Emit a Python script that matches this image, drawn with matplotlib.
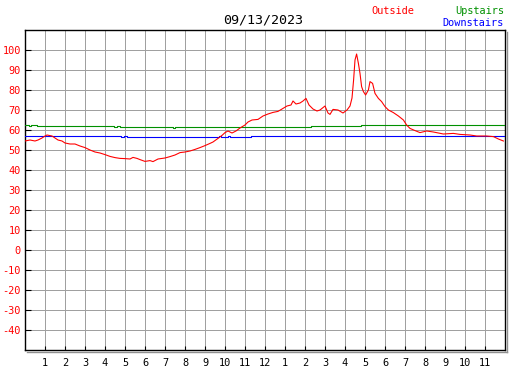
import matplotlib
matplotlib.use("Agg")
import matplotlib.pyplot as plt
from matplotlib.lines import Line2D

# ---------------- data ----------------
title_text = "09/13/2023"
series_names = ["Outside", "Upstairs", "Downstairs"]
series_colors = ["#ff0000", "#009000", "#0000ff"]

outside_hours = [0.0, 0.25, 0.5, 0.65, 0.85, 1.0, 1.1, 1.35, 1.5, 1.65, 1.85, 2.0, 2.25, 2.5,
                 2.75, 3.0, 3.25, 3.5, 3.75, 4.0, 4.25, 4.5, 4.75, 5.0, 5.25, 5.4, 5.6, 5.75,
                 6.0, 6.25, 6.4, 6.65, 7.0, 7.25, 7.5, 7.75, 8.0, 8.25, 8.5, 8.75, 9.0, 9.25,
                 9.4, 9.65, 9.85, 10.0, 10.15, 10.35, 10.55, 10.75, 11.0, 11.15, 11.35, 11.65,
                 11.9, 12.15, 12.4, 12.65, 12.85, 13.1, 13.3, 13.4, 13.55, 13.75, 13.9, 14.05,
                 14.2, 14.4, 14.6, 14.75, 15.0, 15.15, 15.25, 15.4, 15.65, 15.9, 16.1, 16.25,
                 16.35, 16.43, 16.5, 16.58, 16.67, 16.75, 16.83, 16.92, 17.03, 17.17, 17.25,
                 17.38, 17.5, 17.67, 17.83, 18.0, 18.17, 18.42, 18.67, 18.92, 19.08, 19.25,
                 19.5, 19.75, 20.08, 20.42, 20.92, 21.42, 21.75, 22.25, 22.58, 23.08, 23.42,
                 23.67, 23.92]
outside_temps = [54.5, 55.0, 54.5, 55.0, 56.0, 57.0, 57.5, 57.0, 56.0, 55.0, 54.5, 53.5, 53.0, 53.0,
                 52.0, 51.2, 50.0, 49.0, 48.5, 47.7, 46.8, 46.2, 45.8, 45.7, 45.5, 46.3, 45.8, 45.2,
                 44.3, 44.7, 44.2, 45.5, 46.0, 46.7, 47.5, 48.7, 49.0, 49.5, 50.3, 51.2, 52.2, 53.3,
                 54.0, 55.8, 57.3, 58.7, 59.5, 58.5, 59.5, 61.0, 62.5, 64.0, 65.0, 65.3,
                 67.0, 68.0, 68.8, 69.3, 70.5, 72.0, 72.5, 74.5, 73.0, 73.5, 74.5, 75.8,
                 72.5, 70.5, 69.5, 70.0, 72.0, 68.5, 67.8, 70.3, 70.0, 68.5, 70.0, 72.0,
                 76.0, 85.0, 95.0, 98.0, 93.3, 88.3, 81.7, 79.2, 77.5, 80.0, 84.2,
                 83.3, 78.3, 75.8, 74.2, 71.7, 70.0, 68.7, 67.0, 65.0, 62.5, 60.8,
                 59.7, 58.7, 59.5, 59.0, 58.0, 58.3, 57.8, 57.5, 57.0, 57.0, 56.7,
                 55.5, 54.5]

upstairs_hours = [0.0, 0.2, 0.3, 0.6, 4.45, 4.6, 4.75, 7.4, 7.5, 11.4, 11.5, 11.9, 12.0, 14.3, 16.8, 23.95]
upstairs_temps = [62.4, 62.0, 62.4, 62.0, 61.5, 62.0, 61.3, 61.0, 61.3, 61.6, 61.3, 61.6, 61.5, 62.0, 62.5, 62.5]

downstairs_hours = [0.0, 4.8, 4.95, 5.1, 9.7, 9.8, 10.15, 10.25, 11.3, 23.95]
downstairs_temps = [57.0, 56.4, 56.8, 56.4, 57.0, 56.4, 57.0, 56.4, 56.8, 56.8]

y_ticks = list(range(-40, 101, 10))
x_ticks = list(range(1, 24))
x_tick_labels = ["1", "2", "3", "4", "5", "6", "7", "8", "9", "10", "11", "12",
                 "1", "2", "3", "4", "5", "6", "7", "8", "9", "10", "11"]

# ---------------- figure ----------------
W, H = 527, 370
fig = plt.figure(figsize=(W / 100, H / 100), dpi=100)
fig.patch.set_facecolor("white")

L, R, T, B = 25, 505, 30, 350
ax = fig.add_axes([L / W, 1 - B / H, (R - L) / W, (B - T) / H])
ax.set_xlim(0, 24)
ax.set_ylim(-50, 110)

mono = "DejaVu Sans Mono"
px = 0.72  # one pixel in points

# grid
for h in range(1, 24):
    ax.axvline(h, color="#a0a0a0", lw=px, zorder=1)
for v in range(-40, 101, 10):
    ax.axhline(v, color="#a0a0a0", lw=px, zorder=1)

ax.plot(upstairs_hours, upstairs_temps, drawstyle="steps-post", color=series_colors[1],
        lw=px * 1.1, zorder=3)
ax.plot(downstairs_hours, downstairs_temps, drawstyle="steps-post", color=series_colors[2],
        lw=px * 1.1, zorder=3)
ax.plot(outside_hours, outside_temps, color=series_colors[0], lw=px * 1.1, zorder=4)

ax.set_yticks(y_ticks)
ax.set_yticklabels([str(v) for v in y_ticks], color="#ff0000", fontsize=7.4, family=mono)
ax.set_xticks(x_ticks)
ax.set_xticklabels(x_tick_labels, color="black", fontsize=7.4, family=mono)
ax.tick_params(axis="y", direction="in", length=4, width=0.8, pad=3, colors="black", labelcolor="#ff0000")
ax.tick_params(axis="x", direction="in", length=3, width=0.8, pad=6, colors="black", labelcolor="black")
for s in ax.spines.values():
    s.set_color("black")
    s.set_linewidth(1.0)

# frame shadow
fig.add_artist(Line2D([(L + 2) / W, (R + 2) / W], [1 - (B + 1.5) / H] * 2,
                      transform=fig.transFigure, color="#909090", lw=1.0))
fig.add_artist(Line2D([(R + 1.5) / W] * 2, [1 - (T + 2) / H, 1 - (B + 2) / H],
                      transform=fig.transFigure, color="#909090", lw=1.0))

# title and legend
fig.text(263 / W, 1 - 20 / H, title_text, ha="center", va="center", fontsize=9.6, family=mono,
         color="black")
fig.text(414 / W, 1 - 11 / H, series_names[0], ha="right", va="center", fontsize=7.4,
         family=mono, color=series_colors[0])
fig.text(504 / W, 1 - 11 / H, series_names[1], ha="right", va="center", fontsize=7.4,
         family=mono, color=series_colors[1])
fig.text(504 / W, 1 - 23 / H, series_names[2], ha="right", va="center", fontsize=7.4,
         family=mono, color=series_colors[2])

fig.savefig("out.png", dpi=100)
